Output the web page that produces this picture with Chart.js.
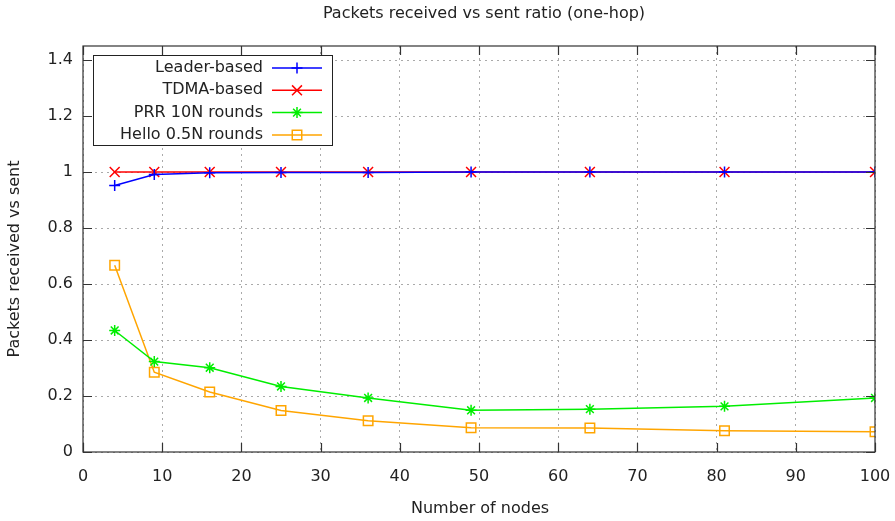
<!DOCTYPE html>
<html><head><meta charset="utf-8">
<script src="https://cdn.jsdelivr.net/npm/chart.js@4/dist/chart.umd.min.js"></script>
<style>html,body{margin:0;padding:0;background:#fff}#wrap{width:895px;height:521px}</style>
</head><body><div id="wrap"><canvas id="c" width="895" height="521"></canvas></div>
<script>
const chartTitle = "Packets received vs sent ratio (one-hop)";
const xTitle = "Number of nodes";
const yTitle = "Packets received vs sent";
const nodes = [4, 9, 16, 25, 36, 49, 64, 81, 100];
const leaderBased = [0.952, 0.991, 0.997, 0.998, 0.998, 1.0, 1.0, 1.0, 1.0];
const tdmaBased = [1, 1, 1, 1, 1, 1, 1, 1, 1];
const prr10N = [0.434, 0.323, 0.301, 0.234, 0.193, 0.149, 0.153, 0.163, 0.193];
const hello05N = [0.667, 0.285, 0.214, 0.148, 0.112, 0.087, 0.086, 0.076, 0.072];
const seriesNames = ["Leader-based", "TDMA-based", "PRR 10N rounds", "Hello 0.5N rounds"];

const FONT = "'DejaVu Sans', sans-serif";
const toPts = arr => arr.map((v, i) => ({x: nodes[i], y: v}));
function ds(label, data, color, style, r) {
  return {label, data: toPts(data), borderColor: color, backgroundColor: 'rgba(0,0,0,0)',
    pointBackgroundColor: 'rgba(0,0,0,0)', pointBorderColor: color, pointStyle: style,
    pointRadius: r, pointHoverRadius: r, pointBorderWidth: 1.5, borderWidth: 1.5, tension: 0, fill: false};
}

const decor = {
  id: 'decor',
  afterDraw(chart) {
    const ctx = chart.ctx, a = chart.chartArea;
    const xs = chart.scales.x, ys = chart.scales.y;
    ctx.save();
    ctx.strokeStyle = '#333'; ctx.lineWidth = 1.2; ctx.setLineDash([]);
    ctx.strokeRect(a.left, a.top, a.right - a.left, a.bottom - a.top);
    ctx.beginPath();
    xs.ticks.forEach(t => { const p = Math.round(xs.getPixelForValue(t.value)) + 0.5;
      ctx.moveTo(p, a.bottom); ctx.lineTo(p, a.bottom - 9); ctx.moveTo(p, a.top); ctx.lineTo(p, a.top + 9); });
    ys.ticks.forEach(t => { const p = Math.round(ys.getPixelForValue(t.value)) + 0.5;
      ctx.moveTo(a.left, p); ctx.lineTo(a.left + 9, p); ctx.moveTo(a.right, p); ctx.lineTo(a.right - 9, p); });
    ctx.stroke();
    const cx = 484;
    ctx.fillStyle = '#222'; ctx.textAlign = 'center'; ctx.textBaseline = 'middle';
    ctx.font = "16px " + FONT;
    ctx.fillText(chartTitle, cx, 14);
    ctx.fillText(xTitle, 480, 509);
    ctx.save(); ctx.translate(15, 259); ctx.rotate(-Math.PI / 2);
    ctx.fillText(yTitle, 0, 0); ctx.restore();
    // legend
    const bx = 93, by = 55, bw = 239, bh = 90;
    ctx.fillStyle = '#fff'; ctx.fillRect(bx, by, bw, bh);
    ctx.strokeStyle = '#222'; ctx.lineWidth = 1; ctx.strokeRect(bx + 0.5, by + 0.5, bw, bh);
    ctx.font = "16px " + FONT; ctx.textAlign = 'right';
    chart.data.datasets.forEach((d, i) => {
      const y = 68 + i * 22.3;
      ctx.fillStyle = '#222';
      ctx.fillText(d.label, 263, y);
      ctx.strokeStyle = d.borderColor; ctx.lineWidth = 1.5;
      ctx.beginPath(); ctx.moveTo(272, y); ctx.lineTo(322, y); ctx.stroke();
      ctx.fillStyle = 'rgba(0,0,0,0)';
      Chart.helpers.drawPoint(ctx, {pointStyle: d.pointStyle, radius: d.pointRadius, borderWidth: 1.5, rotation: 0}, 297, y);
    });
    ctx.restore();
  }
};

new Chart(document.getElementById('c'), {
  type: 'line',
  data: { datasets: [
    ds(seriesNames[0], leaderBased, '#0000ff', 'cross', 5.5),
    ds(seriesNames[1], tdmaBased, '#ff0000', 'crossRot', 7),
    ds(seriesNames[2], prr10N, '#00ee00', 'star', 5.5),
    ds(seriesNames[3], hello05N, '#ffa500', 'rect', 6.7)
  ]},
  options: {
    responsive: false, animation: false, events: [],
    layout: { padding: { top: 46, right: 20, left: 0, bottom: 0 } },
    plugins: { legend: { display: false }, title: { display: false }, tooltip: { enabled: false } },
    scales: {
      x: { type: 'linear', min: 0, max: 100,
        ticks: { stepSize: 10, color: '#222', font: { family: FONT, size: 16 }, padding: 15, maxRotation: 0 },
        grid: { color: '#aaa', lineWidth: 1, drawTicks: false },
        border: { display: false, dash: [2, 4] },
        afterFit(s) { s.height = 69; s.paddingLeft = 0; s.paddingRight = 0; } },
      y: { type: 'linear', min: 0, max: 1.45,
        ticks: { stepSize: 0.2, includeBounds: false, color: '#222', font: { family: FONT, size: 16 }, padding: 10,
          callback: v => (Math.round(v * 10) / 10).toString() },
        grid: { color: '#aaa', lineWidth: 1, drawTicks: false },
        border: { display: false, dash: [2, 4] },
        afterFit(s) { s.width = 83; s.paddingTop = 0; s.paddingBottom = 0; } }
    }
  },
  plugins: [decor]
});
</script></body></html>
